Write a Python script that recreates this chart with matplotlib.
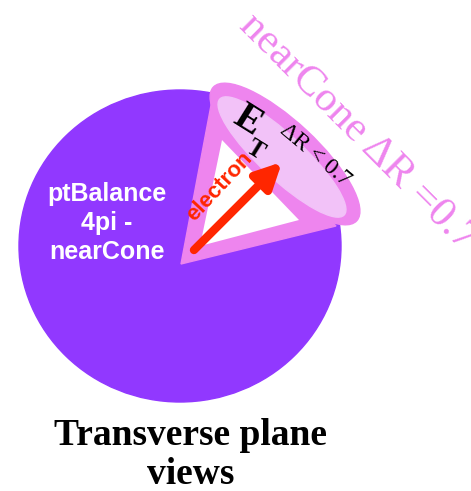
import matplotlib.pyplot as plt
from matplotlib.patches import Ellipse, Polygon, FancyArrowPatch

# labels
centre_label = ["ptBalance", "4pi -", "nearCone"]
cone_label = "nearCone \u0394R =0.7"
et_label = ("E", "T")
dr_label = "\u0394R < 0.7"
particle = "electron"
title = ["Transverse plane", "views"]

# colours
purple = "#9138ff"
pink = "#ee85ee"
light = "#f2c2f8"
red = "#ff2600"

W, H = 471, 491
fig = plt.figure(figsize=(W / 100, H / 100), dpi=100)
ax = fig.add_axes([0, 0, 1, 1])
ax.set_xlim(0, W)
ax.set_ylim(H, 0)
ax.set_aspect("equal")
ax.axis("off")

# transverse plane disc
ax.add_patch(Ellipse((180, 246), 322, 312, color=purple, zorder=1))

# cone
apex = (181, 264)
ax.add_patch(Polygon([apex, (212, 100), (336, 226)], closed=True,
                     facecolor=pink, edgecolor=pink, zorder=2))
ax.add_patch(Polygon([(200, 246), (222, 140), (299, 220)], closed=True,
                     facecolor="white", edgecolor="none", zorder=3))
ax.add_patch(Ellipse((285, 154), 196, 64, angle=43, color=pink, zorder=4))
ax.add_patch(Ellipse((282, 157), 170, 44, angle=43, color=light, zorder=5))
# little bumps at the rim ends
ax.add_patch(Polygon([(214, 96), (224, 86), (228, 98)], closed=True, color=pink, zorder=4))
ax.add_patch(Polygon([(346, 208), (356, 214), (346, 220)], closed=True, color=pink, zorder=4))

# electron arrow
ax.add_patch(FancyArrowPatch((192, 252), (284, 160), arrowstyle="-|>",
                             mutation_scale=38, lw=6, color=red, zorder=6))
ax.text(220, 187, particle, color=red, fontsize=16, fontweight="bold",
        family="Liberation Sans", rotation=47, ha="center", va="center", zorder=7)

# cone labels
ax.text(247, 121, et_label[0], fontsize=28, fontweight="bold", family="Liberation Serif",
        rotation=-32, ha="center", va="center", zorder=7)
ax.text(255, 150, et_label[1], fontsize=18, fontweight="bold", family="Liberation Serif",
        rotation=-32, ha="center", va="center", zorder=7)
ax.text(315, 155, dr_label, fontsize=17, family="Liberation Serif",
        rotation=-40, ha="center", va="center", zorder=7)
ax.text(358, 132, cone_label, color=pink, fontsize=31, family="Liberation Serif",
        rotation=-45, ha="center", va="center", zorder=7)

# disc label
ax.text(107, 223, "\n".join(centre_label), color="white", fontsize=18, fontweight="bold",
        family="Liberation Sans", ha="center", va="center", linespacing=1.25, zorder=7)

# caption
ax.text(191, 455, "\n".join(title), fontsize=27, fontweight="bold",
        family="Liberation Serif", ha="center", va="center", linespacing=1.12)

fig.savefig("out.png", dpi=100)
